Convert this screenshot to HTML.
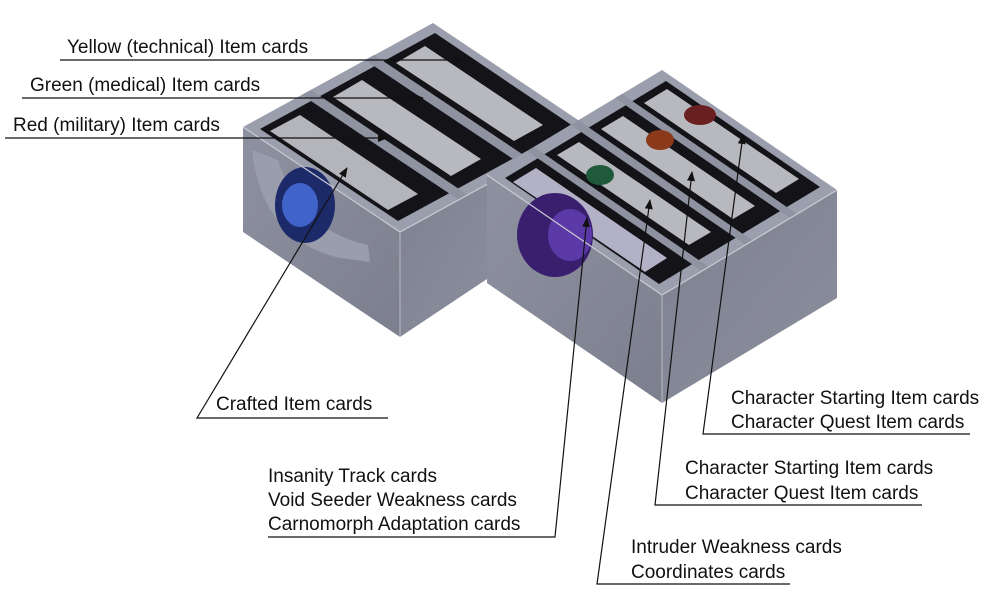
<!DOCTYPE html>
<html><head><meta charset="utf-8"><style>
html,body{margin:0;padding:0;background:#fff;}
svg{display:block}
text{font-family:"Liberation Sans",sans-serif;font-size:19px;fill:#111;}
</style></head><body>
<svg width="1000" height="593" viewBox="0 0 1000 593" xmlns="http://www.w3.org/2000/svg">
<defs>
<marker id="ar" markerWidth="10" markerHeight="8" refX="9" refY="4" orient="auto" markerUnits="userSpaceOnUse">
<path d="M0,0 L10,4 L0,8 z" fill="#111"/></marker>
<linearGradient id="lf" x1="0" y1="0" x2="1" y2="1"><stop offset="0" stop-color="#8e91a0"/><stop offset="1" stop-color="#7c7f8e"/></linearGradient>
<linearGradient id="rf" x1="0" y1="0" x2="1" y2="1"><stop offset="0" stop-color="#7e8191"/><stop offset="1" stop-color="#8b8e9c"/></linearGradient>
</defs>
<!-- LEFT BOX -->
<polygon points="400,232 487,174 487,279 400,337" fill="url(#rf)"/>
<polygon points="243,127 400,232 400,337 243,232" fill="url(#lf)"/>
<polygon points="243,127 433,23 590,128 400,232" fill="#9b9eac"/>
<polygon points="260,129 435,33 573,126 398,221" fill="#141418"/>
<polygon points="270,131 388,210 418,194 300,115" fill="#b4b5ba"/>
<polygon points="333,97 451,176 481,159 362,80" fill="#b8b9be"/>
<polygon points="396,63 514,141 543,125 425,46" fill="#b8b9be"/>
<polygon points="302,95 459,200 468,195 311,90" fill="#8f92a1"/>
<polygon points="365,60 522,165 531,160 374,55" fill="#8f92a1"/>
<path d="M252,150 Q262,240 340,258 L370,262 L368,245 Q300,230 278,160 Z" fill="#9a9dab"/>
<ellipse cx="305" cy="205" rx="30" ry="38" fill="#1d2a6a"/>
<ellipse cx="300" cy="205" rx="18" ry="22" fill="#3f63c9"/>
<polyline points="243,127 400,232 590,128" fill="none" stroke="#c8cad3" stroke-width="1.2"/>
<line x1="400" y1="232" x2="400" y2="337" stroke="#b8bac4" stroke-width="1"/>
<!-- RIGHT BOX -->
<polygon points="662,295 837,190 837,298 662,403" fill="url(#rf)"/>
<polygon points="487,175 662,295 662,403 487,283" fill="url(#lf)"/>
<polygon points="487,175 662,70 837,190 662,295" fill="#9b9eac"/>
<polygon points="505,178 666,81 820,187 659,284" fill="#141418"/>
<polygon points="513,182 645,272 667,258 536,168" fill="#b3b1c6"/>
<polygon points="557,155 689,245 711,232 579,142" fill="#b8b9be"/>
<polygon points="601,129 733,219 755,206 623,116" fill="#b8b9be"/>
<polygon points="644,103 776,193 799,179 667,89" fill="#b8b9be"/>
<polygon points="527,151 702,271 709,267 534,147" fill="#8f92a1"/>
<polygon points="571,125 746,245 753,241 578,120" fill="#8f92a1"/>
<polygon points="615,98 790,218 797,214 622,94" fill="#8f92a1"/>
<ellipse cx="555" cy="235" rx="38" ry="42" fill="#3a1f6e"/>
<ellipse cx="570" cy="235" rx="22" ry="26" fill="#5b3aa8"/>
<ellipse cx="600" cy="175" rx="14" ry="10" fill="#1f5a3a"/>
<ellipse cx="660" cy="140" rx="14" ry="10" fill="#8a3a1a"/>
<ellipse cx="700" cy="115" rx="16" ry="10" fill="#6a2020"/>
<polyline points="487,175 662,295 837,190" fill="none" stroke="#c8cad3" stroke-width="1.2"/>
<line x1="662" y1="295" x2="662" y2="403" stroke="#b8bac4" stroke-width="1"/>
<!-- LABEL LINES -->
<g stroke="#111" stroke-width="1.2" fill="none">
<line x1="60" y1="60" x2="463" y2="60" marker-end="url(#ar)"/>
<line x1="22" y1="98" x2="423" y2="98" marker-end="url(#ar)"/>
<line x1="5" y1="138" x2="387" y2="138" marker-end="url(#ar)"/>
<polyline points="388,418 197,418 347,168" marker-end="url(#ar)"/>
<polyline points="268,537 555,537 587,218" marker-end="url(#ar)"/>
<polyline points="790,584 597,584 650,200" marker-end="url(#ar)"/>
<polyline points="922,505 655,505 692,172" marker-end="url(#ar)"/>
<polyline points="970,434 703,434 743,135" marker-end="url(#ar)"/>
</g>
<text x="67" y="53">Yellow (technical) Item cards</text>
<text x="30" y="91">Green (medical) Item cards</text>
<text x="13" y="131">Red (military) Item cards</text>
<text x="216" y="410">Crafted Item cards</text>
<text x="268" y="482">Insanity Track cards</text>
<text x="268" y="506">Void Seeder Weakness cards</text>
<text x="268" y="530">Carnomorph Adaptation cards</text>
<text x="631" y="553">Intruder Weakness cards</text>
<text x="631" y="578">Coordinates cards</text>
<text x="685" y="474">Character Starting Item cards</text>
<text x="685" y="499">Character Quest Item cards</text>
<text x="731" y="404">Character Starting Item cards</text>
<text x="731" y="428">Character Quest Item cards</text>
</svg>
</body></html>
